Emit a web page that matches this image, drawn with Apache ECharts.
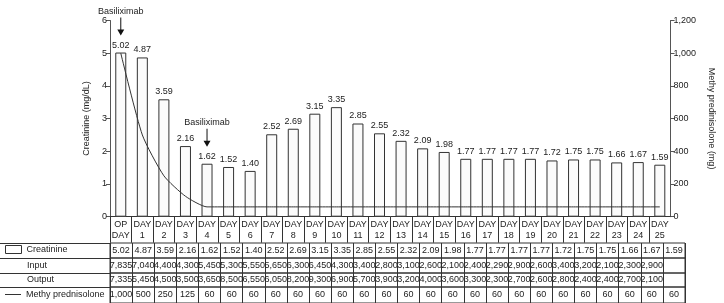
<!DOCTYPE html>
<html><head><meta charset="utf-8">
<script src="https://cdn.jsdelivr.net/npm/echarts@6/dist/echarts.min.js"></script>
<style>html,body{margin:0;padding:0;background:#fff}#c{width:724px;height:303px}</style>
</head><body><div id="c"></div>
<script>
const categories = ['OP DAY','DAY 1','DAY 2','DAY 3','DAY 4','DAY 5','DAY 6','DAY 7','DAY 8','DAY 9','DAY 10','DAY 11','DAY 12','DAY 13','DAY 14','DAY 15','DAY 16','DAY 17','DAY 18','DAY 19','DAY 20','DAY 21','DAY 22','DAY 23','DAY 24','DAY 25'];
const creatinine = [5.02,4.87,3.59,2.16,1.62,1.52,1.40,2.52,2.69,3.15,3.35,2.85,2.55,2.32,2.09,1.98,1.77,1.77,1.77,1.77,1.72,1.75,1.75,1.66,1.67,1.59];
const input = [7835,7040,4400,4300,5450,5300,5550,5650,6300,6450,4300,3400,2800,3100,2600,2100,2400,2290,2900,2600,3400,3200,2100,2300,2900,null];
const output = [7335,5450,4500,3500,3650,8500,6550,6050,8200,9300,6900,5700,3900,3200,4000,3600,3300,2300,2700,2600,2800,2400,2400,2700,2100,null];
const methyl = [1000,500,250,125,60,60,60,60,60,60,60,60,60,60,60,60,60,60,60,60,60,60,60,60,60,60];
const leftTicks = {min:0, max:6, interval:1};
const rightTicks = {min:0, max:1200, interval:200};
const annotations = [{category:'OP DAY', text:'Basiliximab'}, {category:'DAY 4', text:'Basiliximab'}];

const FONT = 'Liberation Sans, Arial, sans-serif';
const INK = '#222';
const LINE = '#333';
const fmt = v => (v === null || v === undefined) ? '' : Number(v).toLocaleString('en-US');

const L = 110, R = 39;
const rows = [
  {key:'Creatinine', label:'', values: creatinine.map(v => v.toFixed(2)), top:243, height:15},
  {key:'Input', label:'Input', values: input.map(fmt), top:258, height:15},
  {key:'Output', label:'Output', values: output.map(fmt), top:273, height:14},
  {key:'Methy', label:'', values: methyl.map(fmt), top:287, height:16}
];

const grids = [{left:L, right:R, top:20.5, bottom:86.3}];
const xAxes = [{
  type:'category', data:categories, gridIndex:0,
  axisLine:{show:true, lineStyle:{color:LINE, width:1}},
  axisTick:{show:true, length:26, interval:0, lineStyle:{color:LINE}},
  axisLabel:{interval:0, margin:3, fontSize:9, lineHeight:10.5, color:INK, fontFamily:FONT,
    formatter: v => v.replace(' ', '\n')},
  splitLine:{show:false}
}];
const yAxes = [
  {type:'value', gridIndex:0, position:'left', min:leftTicks.min, max:leftTicks.max, interval:leftTicks.interval,
   name:'Creatinine (mg/dL)', nameLocation:'middle', nameGap:18, nameRotate:90,
   nameTextStyle:{fontSize:9, color:INK, fontFamily:FONT},
   axisLine:{show:true, lineStyle:{color:'#555'}}, axisTick:{show:true, length:4, lineStyle:{color:'#555'}},
   axisLabel:{fontSize:9, color:INK, margin:3, fontFamily:FONT}, splitLine:{show:false}},
  {type:'value', gridIndex:0, position:'right', min:rightTicks.min, max:rightTicks.max, interval:rightTicks.interval,
   name:'Methy predinisolone (mg)', nameLocation:'middle', nameGap:34, nameRotate:-90,
   nameTextStyle:{fontSize:9, color:INK, fontFamily:FONT},
   axisLine:{show:true, lineStyle:{color:'#555'}}, axisTick:{show:true, length:4, lineStyle:{color:'#555'}},
   axisLabel:{fontSize:9, color:INK, margin:3, fontFamily:FONT, formatter: v => fmt(v)}, splitLine:{show:false}}
];

rows.forEach((r, i) => {
  const gi = i + 1;
  grids.push({left:L, right:R, top:r.top, height:r.height, show:true, borderColor:LINE, borderWidth:1, backgroundColor:'transparent'});
  xAxes.push({
    type:'category', data:categories, gridIndex:gi, position:'bottom',
    axisLine:{show:false}, axisTick:{show:false},
    splitLine:{show:true, interval:0, lineStyle:{color:LINE, width:1}},
    axisLabel:{inside:true, interval:0, margin:r.height/2, verticalAlign:'middle', fontSize:9, color:INK, fontFamily:FONT,
      formatter: (v, idx) => r.values[idx]}
  });
  yAxes.push({
    type:'category', data:[r.label], gridIndex:gi,
    axisLine:{show:false},
    axisTick:{show:true, length:L, lineStyle:{color:LINE}},
    axisLabel:{align:'left', margin:L-27, fontSize:9, color:INK, fontFamily:FONT},
    splitLine:{show:false}
  });
});

const arrowPath = 'path://M3,0 L4,0 L4,12 L7,12 L3.5,18 L0,12 L3,12 Z';

const option = {
  animation:false,
  textStyle:{fontFamily:FONT},
  grid:grids, xAxis:xAxes, yAxis:yAxes,
  legend:[
    {data:[{name:'Creatinine', icon:'rect', itemStyle:{color:'#fff', borderColor:'#333', borderWidth:1}}],
     left:5, top:245, padding:0, itemWidth:16, itemHeight:8, selectedMode:false,
     textStyle:{fontSize:9, color:INK, fontFamily:FONT}},
    {data:[{name:'Methy prednisolone', icon:'rect'}], left:5, top:290, padding:0, itemWidth:16, itemHeight:1, selectedMode:false,
     textStyle:{fontSize:9, color:INK, fontFamily:FONT}}
  ],
  series:[
    {name:'Creatinine', type:'bar', xAxisIndex:0, yAxisIndex:0, data:creatinine, barWidth:11,
     itemStyle:{color:'#fbfbfb', borderColor:'#333', borderWidth:1},
     label:{show:true, position:'top', distance:3, fontSize:9, color:INK, fontFamily:FONT, formatter: p => p.value.toFixed(2)},
     markPoint:{
       symbol:arrowPath, symbolSize:[7,18], symbolOffset:[0,-26], symbolKeepAspect:false,
       itemStyle:{color:'#111', borderWidth:0},
       label:{show:true, position:'top', distance:2, fontSize:9, color:INK, fontFamily:FONT, formatter: p => p.name},
       data: annotations.map(a => ({name:a.text, coord:[a.category, creatinine[categories.indexOf(a.category)]]}))
     }},
    {name:'Methy prednisolone', type:'line', xAxisIndex:0, yAxisIndex:1, data:methyl, smooth:0.2,
     symbol:'none', lineStyle:{color:'#333', width:1}, itemStyle:{color:'#333'}, z:5}
  ]
};
const chart = echarts.init(document.getElementById('c'));
chart.setOption(option);
</script>
</body></html>
